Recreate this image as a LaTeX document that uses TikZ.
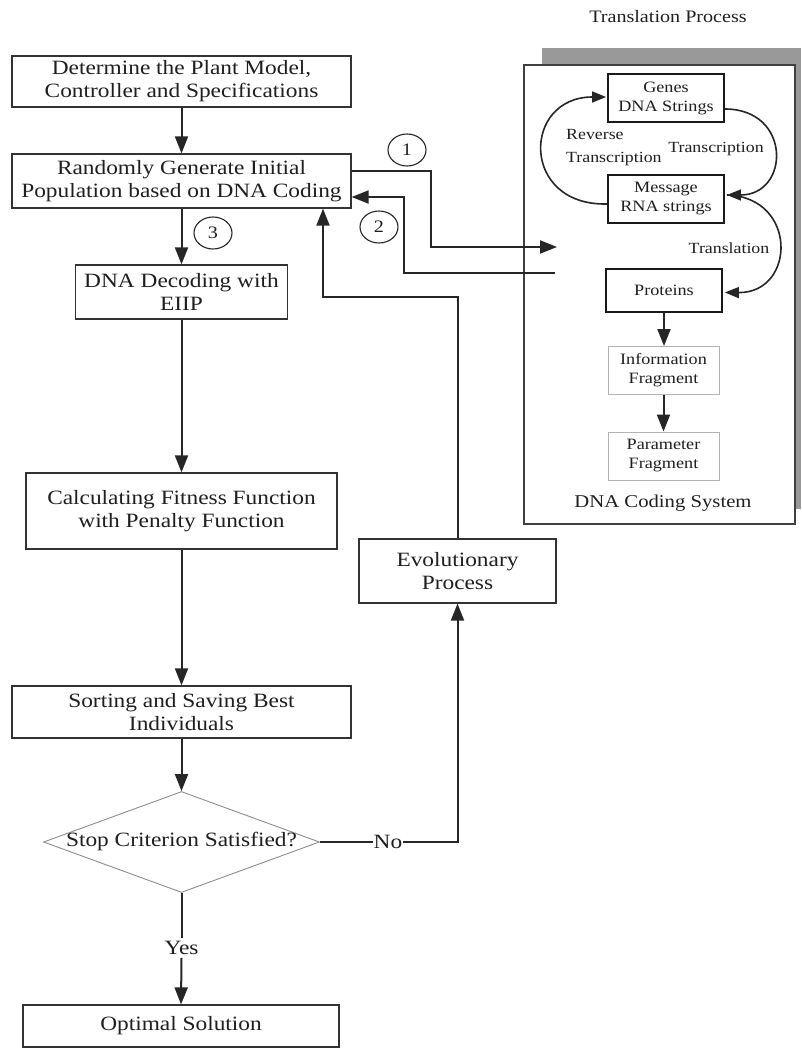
\documentclass[tikz,border=0pt]{standalone}
\usepackage{fontspec}
\setmainfont{Liberation Serif}[FakeStretch=1.15]
\usetikzlibrary{arrows.meta,shapes.geometric,calc}
\begin{document}
\begin{tikzpicture}[x=1pt,y=-1pt,
  box/.style={draw=black!80, line width=1.2pt, fill=white, align=center, inner sep=0pt, text=black!88, font=\fontsize{20.3}{23}\selectfont},
  ibox/.style={draw=black!90, line width=1.8pt, fill=white, align=center, inner sep=0pt, text=black!88, font=\fontsize{15.8}{19}\selectfont, minimum width=116pt},
  gbox/.style={draw=black!30, line width=1pt, fill=white, align=center, inner sep=0pt, text=black!88, font=\fontsize{15.8}{19}\selectfont, minimum width=111pt, minimum height=48pt},
  arr/.style={line width=2pt, draw=black!85, -{Triangle[length=17pt,width=13pt]}},
  arrs/.style={line width=1.6pt, draw=black!85, -{Triangle[length=14pt,width=11pt]}},
  ln/.style={line width=2pt, draw=black!85},
  num/.style={draw=black!85, line width=1.1pt, ellipse, minimum width=38pt, minimum height=32pt, inner sep=0pt, text=black!88, font=\fontsize{17.5}{17.5}\selectfont},
  lab/.style={inner sep=0pt, text=black!88, font=\fontsize{15.5}{23}\selectfont, align=left},
  big/.style={inner sep=0pt, text=black!88, font=\fontsize{20.3}{23}\selectfont}
]
\useasboundingbox (0,0) rectangle (801,1049);

% ---------- right panel ----------
\fill[black!40] (542,48) rectangle (801,509);
\node[draw=black!75, line width=1.1pt, fill=white, minimum width=271pt, minimum height=459pt, inner sep=0pt] (panel) at (659.5,294.5) {};
\node[inner sep=0pt, text=black!88, font=\fontsize{17.5}{17.5}\selectfont] (title) at (668,17) {Translation Process};

\node[ibox, minimum height=48pt] (genes) at (666,98) {Genes\\DNA Strings};
\node[ibox, minimum height=48pt] (msg) at (666,199) {Message\\RNA strings};
\node[ibox, minimum height=43pt] (prot) at (664,290.5) {Proteins};
\node[gbox] (info) at (663.5,370.5) {Information\\Fragment};
\node[gbox] (param) at (663.5,456) {Parameter\\Fragment};
\node[inner sep=0pt, text=black!88, font=\fontsize{18}{20}\selectfont] (dcs) at (663,503) {DNA Coding System};

\draw[arrs] ($(msg.west)+(0,5)$) .. controls (520,206) and (522,97) .. ($(genes.west)+(-1,-1)$);
\draw[arrs] ($(genes.east)+(0,11)$) .. controls (792,109) and (790,195) .. ($(msg.east)+(2,-4)$);
\draw[arrs] ($(msg.east)+(2,-4)$) .. controls (798,197) and (796,293) .. ($(prot.east)+(2,2)$);
\node[lab, anchor=west] (rev) at (566,148) {Reverse\\Transcription};
\node[lab] (tr) at (716,149) {Transcription};
\node[lab] (tl) at (729,248) {Translation};

\draw[arr] (prot.south) -- (prot.south |- info.north);
\draw[arr] (info.south) -- (param.north);

% ---------- left column ----------
\node[box, minimum width=339pt, minimum height=51pt] (b1) at (181.5,81.5) {Determine the Plant Model,\\Controller and Specifications};
\node[box, minimum width=339pt, minimum height=54pt] (b2) at (181.5,181) {Randomly Generate Initial\\Population based on DNA Coding};
\node[box, minimum width=212pt, minimum height=54pt] (b3) at (181.5,292) {DNA Decoding with\\EIIP};
\node[box, minimum width=311pt, minimum height=76pt] (b4) at (181.5,511) {Calculating Fitness Function\\with Penalty Function};
\node[box, minimum width=339pt, minimum height=52pt] (b5) at (181.5,712) {Sorting and Saving Best\\Individuals};
\node[draw=black!45, line width=0.9pt, diamond, minimum width=276pt, minimum height=101pt, inner sep=0pt] (d) at (181.5,842) {};
\node[big] (dtext) at (d.center) {Stop Criterion Satisfied?};
\node[box, minimum width=316pt, minimum height=42pt] (b6) at (181,1026) {Optimal Solution};
\node[box, minimum width=197pt, minimum height=64pt] (evo) at (457.5,571) {Evolutionary\\Process};

\node[big, inner sep=3pt] (yes) at (181.5,948) {Yes};
\node[big, inner sep=1pt] (no) at (388,842) {No};

\node[num] (n1) at (407,150) {1};
\node[num] (n2) at (379,227) {2};
\node[num] (n3) at (213,233) {3};

\draw[arr] (b1) -- (b2);
\draw[arr] (b2) -- (b3);
\draw[arr] (b3) -- (b4);
\draw[arr] (b4) -- (b5);
\draw[arr] (b5) -- (d);
\draw[ln] (d.south) -- (yes.north);
\draw[arr] (yes.south) -- (b6.north);
\draw[ln] (d.east) -- (no.west);
\coordinate (cno) at (457.5,842);
\draw[arr] (no.east) -- (cno) -- (evo.south);
\coordinate (e1) at (457.5,297);
\coordinate (e2) at (323,297);
\draw[arr] (evo.north) -- (e1) -- (e2) -- (e2 |- b2.south);

\coordinate (c1) at (431,247);
\coordinate (t1) at (557,247);
\draw[arr] ($(b2.east)+(0,-10)$) -| (c1) -- (t1);
\coordinate (t2) at (555,273);
\coordinate (c2) at (404,273);
\draw[arr] (t2) -- (c2) |- ($(b2.east)+(0,16)$);
\end{tikzpicture}
\end{document}
